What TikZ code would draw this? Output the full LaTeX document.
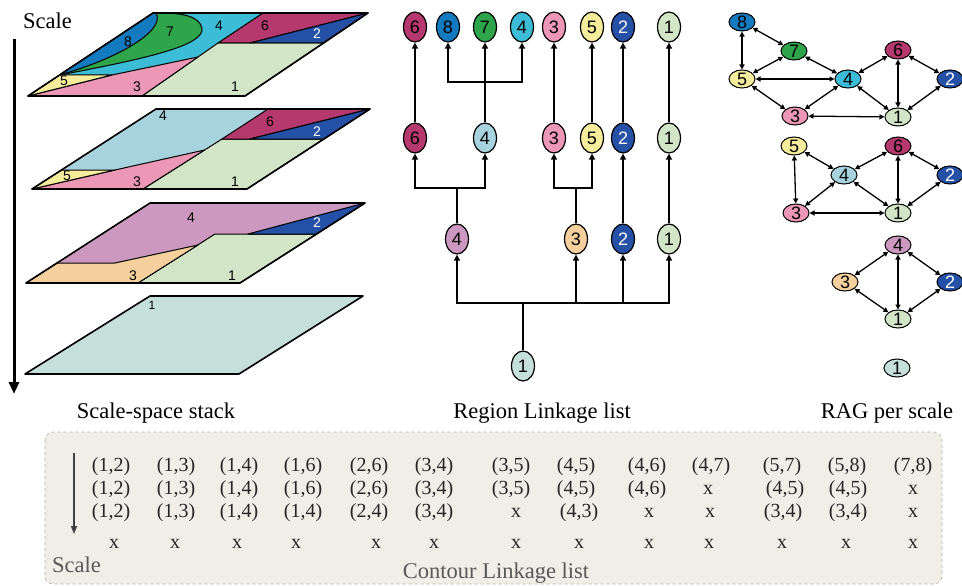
\documentclass[tikz,border=0pt]{standalone}
\usepackage{fontspec}
\setmainfont{Liberation Serif}
\newfontfamily\sansf{Liberation Sans}
\usetikzlibrary{shapes.geometric,arrows.meta,calc}

\definecolor{cMag}{RGB}{181,56,110}
\definecolor{cBlue}{RGB}{20,122,192}
\definecolor{cGreen}{RGB}{46,164,75}
\definecolor{cCyan}{RGB}{61,188,216}
\definecolor{cPink}{RGB}{236,151,182}
\definecolor{cYellow}{RGB}{246,237,156}
\definecolor{cNavy}{RGB}{36,80,166}
\definecolor{cLgreen}{RGB}{210,229,199}
\definecolor{cLblue}{RGB}{167,211,223}
\definecolor{cPurple}{RGB}{204,152,192}
\definecolor{cOrange}{RGB}{245,208,157}
\definecolor{cTeal}{RGB}{197,223,219}
\definecolor{boxfill}{RGB}{241,237,231}
\definecolor{boxline}{RGB}{180,176,170}

\begin{document}
\begin{tikzpicture}[x=1pt,y=-1pt,
  tnode/.style={ellipse, draw, line width=1.2pt, minimum width=23pt, minimum height=30pt,
                inner sep=0pt, font=\sansf\fontsize{18}{18}\selectfont},
  gnode/.style={ellipse, draw, line width=1pt, minimum width=26pt, minimum height=18pt,
                inner sep=0pt, font=\sansf\fontsize{18}{18}\selectfont},
  link/.style={line width=1.6pt},
  uparr/.style={link, -{Triangle[length=6pt,width=6pt]}},
  radj/.style={line width=1.3pt, {Triangle[length=5pt,width=5pt]}-{Triangle[length=5pt,width=5pt]}},
  region/.style={draw=black, line width=1pt, line join=round},
  outline/.style={draw=black, line width=1.6pt, line join=round},
  rlabel/.style={font=\sansf\fontsize{14}{14}\selectfont, inner sep=0pt},
  caption/.style={font=\fontsize{22.5}{22.5}\selectfont, anchor=base, inner sep=0pt},
  cell/.style={font=\fontsize{20}{20}\selectfont, anchor=base, inner sep=0pt, text=black!85},
]
\useasboundingbox (0,0) rectangle (962,586);

% ---------------- scale-space stack ----------------
% layer 1
\fill[cCyan] (59.6,75) -- (153,13) -- (263,13) -- (218,43) -- (198,57) -- (112,75) -- cycle;
\filldraw[region, fill=cLgreen] (142,96) -- (245,96) -- (323.5,43) -- (218,43) -- cycle;
\filldraw[region, fill=cMag] (218,43) -- (263,13) -- (368,13) -- (250,43) -- cycle;
\filldraw[region, fill=cNavy] (250,43) -- (368,13) -- (323.5,43) -- cycle;
\filldraw[region, fill=cPink] (28,96) -- (142,96) -- (198,57) -- (112,75) -- cycle;
\filldraw[region, fill=cYellow] (28,96) -- (112,75) -- (59.6,75) -- cycle;
\filldraw[region, fill=cGreen] (59.6,75) .. controls (150,58) and (205,45) .. (202,28)
   .. controls (199,16) and (182,13) .. (160,13) -- (153,13) -- cycle;
\filldraw[region, fill=cBlue] (59.6,75) -- (153,13) -- (156,13)
   .. controls (166,30) and (120,58) .. (59.6,75) -- cycle;
\draw[outline] (28,96) -- (245,96) -- (368,13) -- (153,13) -- cycle;
\node[rlabel] (p1n8) at (128,42) {8};
\node[rlabel] (p1n7) at (170,32) {7};
\node[rlabel] (p1n4) at (219,26) {4};
\node[rlabel] (p1n6) at (265,26) {6};
\node[rlabel, text=white] (p1n2) at (317,34) {2};
\node[rlabel] (p1n5) at (64,81) {5};
\node[rlabel] (p1n3) at (137,87) {3};
\node[rlabel] (p1n1) at (235,87) {1};

% layer 2
\fill[cLblue] (61.5,170) -- (156,109) -- (268,109) -- (222,139) -- (204.6,150) -- (115,170) -- cycle;
\filldraw[region, fill=cLgreen] (143,189) -- (247,189) -- (323.9,139) -- (222,139) -- cycle;
\filldraw[region, fill=cMag] (222,139) -- (268,109) -- (370,109) -- (250,139) -- cycle;
\filldraw[region, fill=cNavy] (250,139) -- (370,109) -- (323.9,139) -- cycle;
\filldraw[region, fill=cPink] (32,189) -- (143,189) -- (204.6,150) -- (115,170) -- cycle;
\filldraw[region, fill=cYellow] (32,189) -- (115,170) -- (61.5,170) -- cycle;
\draw[outline] (32,189) -- (247,189) -- (370,109) -- (156,109) -- cycle;
\node[rlabel] (p2n4) at (163,116) {4};
\node[rlabel] (p2n6) at (270,122) {6};
\node[rlabel, text=white] (p2n2) at (317,132) {2};
\node[rlabel] (p2n5) at (67,176) {5};
\node[rlabel] (p2n3) at (137,182) {3};
\node[rlabel] (p2n1) at (235,182) {1};

% layer 3
\fill[cPurple] (57,263) -- (150,203) -- (365,203) -- (248,234) -- (215,234) -- (198,245) -- (115,263) -- cycle;
\filldraw[region, fill=cLgreen] (138,283) -- (240,283) -- (316.6,234) -- (215,234) -- cycle;
\filldraw[region, fill=cNavy] (248,234) -- (365,203) -- (316.6,234) -- cycle;
\filldraw[region, fill=cOrange] (26,283) -- (138,283) -- (198,245) -- (115,263) -- (57,263) -- cycle;
\draw[outline] (26,283) -- (240,283) -- (365,203) -- (150,203) -- cycle;
\node[rlabel] (p3n4) at (191,218) {4};
\node[rlabel, text=white] (p3n2) at (317,223) {2};
\node[rlabel] (p3n3) at (133,276) {3};
\node[rlabel] (p3n1) at (232,276) {1};

% layer 4
\filldraw[outline, fill=cTeal] (25,374) -- (239,374) -- (363,296) -- (150,296) -- cycle;
\node[rlabel, font=\sansf\fontsize{12}{12}\selectfont] (p4n1) at (152,305) {1};

% scale axis
\coordinate (sTop) at (14,39);
\coordinate (sBot) at (14,394);
\draw[line width=3pt, -{Triangle[length=12pt,width=10pt]}] (sTop) -- (sBot);
\node[caption, anchor=base west] (scaleT) at (23,29) {Scale};

% ---------------- region linkage tree ----------------
\node[tnode, fill=cMag]    (t6a) at (415,27) {6};
\node[tnode, fill=cBlue]   (t8a) at (448,27) {8};
\node[tnode, fill=cGreen]  (t7a) at (485,27) {7};
\node[tnode, fill=cCyan]   (t4a) at (522,27) {4};
\node[tnode, fill=cPink]   (t3a) at (554,27) {3};
\node[tnode, fill=cYellow] (t5a) at (592,27) {5};
\node[tnode, fill=cNavy, text=white] (t2a) at (623,27) {2};
\node[tnode, fill=cLgreen] (t1a) at (669,27) {1};

\node[tnode, fill=cMag]    (t6b) at (415,138) {6};
\node[tnode, fill=cLblue]  (t4b) at (485,138) {4};
\node[tnode, fill=cPink]   (t3b) at (554,138) {3};
\node[tnode, fill=cYellow] (t5b) at (592,138) {5};
\node[tnode, fill=cNavy, text=white] (t2b) at (623,138) {2};
\node[tnode, fill=cLgreen] (t1b) at (669,138) {1};

\node[tnode, fill=cPurple] (t4c) at (457,239) {4};
\node[tnode, fill=cOrange] (t3c) at (576,239) {3};
\node[tnode, fill=cNavy, text=white] (t2c) at (623,239) {2};
\node[tnode, fill=cLgreen] (t1c) at (669,239) {1};

\node[tnode, fill=cTeal] (t1d) at (523,366) {1};

% links between rows 2 and 1
\draw[uparr] (t6b) -- (t6a);
\draw[uparr] (t4b) -- (t7a);
\coordinate (j1) at (485,82);
\draw[uparr] (j1) -| (t8a);
\draw[uparr] (j1) -| (t4a);
\draw[uparr] (t3b) -- (t3a);
\draw[uparr] (t5b) -- (t5a);
\draw[uparr] (t2b) -- (t2a);
\draw[uparr] (t1b) -- (t1a);

% links between rows 3 and 2
\coordinate (j2) at (457,188);
\draw[link, line width=2.4pt] (t4c) -- (j2);
\draw[uparr] (j2) -| (t6b);
\draw[uparr] (j2) -| (t4b);
\coordinate (j3) at (576,188);
\draw[link] (t3c) -- (j3);
\draw[uparr] (j3) -| (t3b);
\draw[uparr] (j3) -| (t5b);
\draw[uparr] (t2c) -- (t2b);
\draw[uparr] (t1c) -- (t1b);

% links from the root
\coordinate (j4) at (523,303);
\draw[link] (t1d) -- (j4);
\draw[uparr] (j4) -| (t4c);
\draw[uparr] (j4) -| (t3c);
\draw[uparr] (j4) -| (t2c);
\draw[uparr] (j4) -| (t1c);

% ---------------- RAG per scale ----------------
\node[gnode, fill=cBlue]   (a8) at (742,22) {8};
\node[gnode, fill=cGreen]  (a7) at (794,51) {7};
\node[gnode, fill=cYellow] (a5) at (742,79) {5};
\node[gnode, fill=cCyan]   (a4) at (848,79) {4};
\node[gnode, fill=cMag]    (a6) at (898,50) {6};
\node[gnode, fill=cNavy, text=white] (a2) at (950,79) {2};
\node[gnode, fill=cPink]   (a3) at (795,116) {3};
\node[gnode, fill=cLgreen] (a1) at (898,117) {1};
\foreach \u/\v in {a8/a5, a8/a7, a7/a5, a7/a4, a5/a4, a5/a3, a4/a3, a4/a6, a4/a1, a6/a1, a6/a2, a1/a2, a3/a1}
  \draw[radj] (\u) -- (\v);

\node[gnode, fill=cYellow] (b5) at (794,146) {5};
\node[gnode, fill=cMag]    (b6) at (898,146) {6};
\node[gnode, fill=cLblue]  (b4) at (844,175) {4};
\node[gnode, fill=cNavy, text=white] (b2) at (950,175) {2};
\node[gnode, fill=cPink]   (b3) at (796,213) {3};
\node[gnode, fill=cLgreen] (b1) at (898,213) {1};
\foreach \u/\v in {b5/b3, b5/b4, b3/b4, b4/b6, b4/b1, b6/b1, b6/b2, b1/b2, b3/b1}
  \draw[radj] (\u) -- (\v);

\node[gnode, fill=cPurple] (c4) at (898,245) {4};
\node[gnode, fill=cOrange] (c3) at (845,282) {3};
\node[gnode, fill=cNavy, text=white] (c2) at (950,282) {2};
\node[gnode, fill=cLgreen] (c1) at (898,319) {1};
\foreach \u/\v in {c4/c3, c4/c2, c4/c1, c1/c3, c1/c2}
  \draw[radj] (\u) -- (\v);

\node[gnode, fill=cTeal] (d1) at (897,368) {1};

% ---------------- captions ----------------
\node[caption] (capStack) at (156,418) {Scale-space stack};
\node[caption] (capTree)  at (542,418) {Region Linkage list};
\node[caption] (capRag)   at (887,418) {RAG per scale};

% ---------------- contour linkage list ----------------
\filldraw[fill=boxfill, draw=boxline, dashed, line width=0.6pt, rounded corners=8pt]
  (45,432) rectangle (942,584);
\coordinate (tTop) at (74,453);
\coordinate (tBot) at (74,534);
\draw[line width=1.3pt, black!75, -{Triangle[length=8pt,width=6pt]}] (tTop) -- (tBot);
\node[caption, anchor=base west, text=black!65] (tScale) at (52,572) {Scale};
\node[caption, text=black!65] (tTitle) at (496,578) {Contour Linkage list};

\foreach \t/\x [count=\i] in {{(1,2)}/111, {(1,3)}/176, {(1,4)}/239, {(1,6)}/303, {(2,6)}/369,
    {(3,4)}/434, {(3,5)}/511, {(4,5)}/576, {(4,6)}/647, {(4,7)}/711, {(5,7)}/782,
    {(5,8)}/847, {(7,8)}/913}
  \node[cell] (ra\i) at (\x,471) {\t};
\foreach \t/\x [count=\i] in {{(1,2)}/111, {(1,3)}/176, {(1,4)}/239, {(1,6)}/303, {(2,6)}/369,
    {(3,4)}/434, {(3,5)}/511, {(4,5)}/576, {(4,6)}/647, {x}/708, {(4,5)}/785,
    {(4,5)}/848, {x}/913}
  \node[cell] (rb\i) at (\x,494) {\t};
\foreach \t/\x [count=\i] in {{(1,2)}/111, {(1,3)}/176, {(1,4)}/239, {(1,4)}/303, {(2,4)}/369,
    {(3,4)}/434, {x}/516, {(4,3)}/579, {x}/649, {x}/710, {(3,4)}/783,
    {(3,4)}/848, {x}/913}
  \node[cell] (rc\i) at (\x,517) {\t};
\foreach \x [count=\i] in {114,175,237,296,376,434,516,579,649,709,782,846,913}
  \node[cell] (rd\i) at (\x,548) {x};

\end{tikzpicture}
\end{document}
